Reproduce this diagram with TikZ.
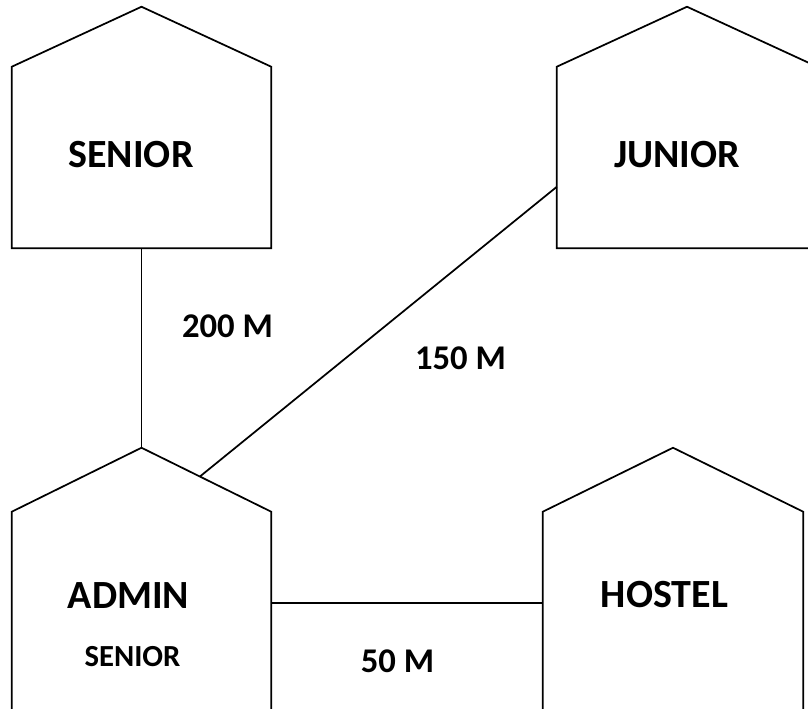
\documentclass[tikz,border=0pt]{standalone}
\usepackage{fontspec}
\setmainfont{Carlito}
\usetikzlibrary{calc}

\begin{document}
\begin{tikzpicture}[x=0.75pt, y=-0.75pt,
    wall/.style={rectangle, inner sep=0pt},
    outline/.style={line width=1.3pt, line join=miter},
    bigname/.style={font=\fontsize{30}{35}\selectfont\bfseries},
    smallname/.style={font=\fontsize{23}{27}\selectfont\bfseries},
    dist/.style={font=\fontsize{26}{31}\selectfont\bfseries}]
\useasboundingbox (0,0) rectangle (808,708);
\clip (0,0) rectangle (808,708);

% Building walls
\node[wall, minimum width=194.25pt, minimum height=135.75pt] (senior) at (141.5,157.5) {};
\node[wall, minimum width=195pt, minimum height=135.75pt] (junior) at (687,157.5) {};
\node[wall, minimum width=194.25pt, minimum height=216pt] (admin) at (141.5,656) {};
\node[wall, minimum width=195pt, minimum height=216pt] (hostel) at (673,656) {};

% Roof tops
\coordinate (senior-peak) at ([yshift=45pt]senior.north);
\coordinate (junior-peak) at ([yshift=45pt]junior.north);
\coordinate (admin-peak) at ([yshift=48pt]admin.north);
\coordinate (hostel-peak) at ([yshift=48pt]hostel.north);

% Outlines
\foreach \bldg in {senior, junior, admin, hostel} {
    \draw[outline] (\bldg.south west) -- (\bldg.north west) -- (\bldg-peak)
        -- (\bldg.north east) -- (\bldg.south east) -- cycle;
}

% Names
\node[bigname] (senior-name) at (131,155) {SENIOR};
\node[bigname] (junior-name) at (677,155) {JUNIOR};
\node[bigname] (admin-name) at (128.5,596) {ADMIN};
\node[smallname] (admin-sub) at (132.5,657) {SENIOR};
\node[bigname] (hostel-name) at (664.5,595) {HOSTEL};

% Cables
\coordinate (admin-roof) at ($(admin-peak)!0.45!(admin.north east)$);
\coordinate (junior-port) at ([yshift=-22pt]junior.west);
\coordinate (admin-port) at ([yshift=39.75pt]admin.east);
\draw[outline] (senior.south) -- (admin-peak);
\draw[outline] (admin-roof) -- (junior-port);
\draw[outline] (admin-port) -- (admin-port -| hostel.west);

% Distances
\node[dist] (d-senior) at (227.5,326) {200 M};
\node[dist] (d-junior) at (460.5,358) {150 M};
\node[dist] (d-hostel) at (397.5,661.5) {50 M};

\end{tikzpicture}
\end{document}
